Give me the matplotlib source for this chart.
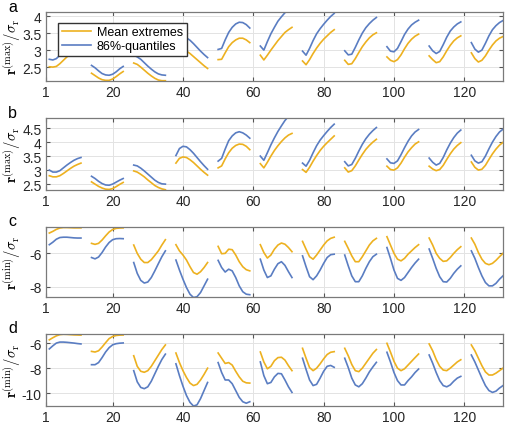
import numpy as np
import matplotlib
matplotlib.use("Agg")
import matplotlib.pyplot as plt

plt.rcParams["font.family"] = ["Liberation Sans", "DejaVu Sans"]
plt.rcParams["mathtext.fontset"] = "cm"

# each block of 10 consecutive indices, first index of each block
seg_starts = [2, 14, 26, 38, 50, 62, 74, 86, 98, 110, 122]
seg_len = 10

# panel a: r^(max)/sigma_r
a_mean = [
    [2.51, 2.50, 2.52, 2.60, 2.70, 2.80, 2.88, 2.95, 3.00, 3.02],
    [2.32, 2.25, 2.18, 2.13, 2.11, 2.11, 2.15, 2.22, 2.30, 2.37],
    [2.62, 2.58, 2.50, 2.41, 2.32, 2.24, 2.17, 2.12, 2.10, 2.10],
    [2.88, 2.97, 3.00, 2.97, 2.90, 2.81, 2.72, 2.63, 2.54, 2.46],
    [2.72, 2.73, 2.92, 3.10, 3.22, 3.30, 3.35, 3.35, 3.30, 3.22],
    [2.85, 2.71, 2.85, 3.00, 3.14, 3.28, 3.40, 3.52, 3.60, 3.67],
    [2.68, 2.57, 2.72, 2.90, 3.06, 3.20, 3.32, 3.42, 3.52, 3.60],
    [2.70, 2.58, 2.60, 2.75, 2.93, 3.10, 3.24, 3.36, 3.45, 3.51],
    [2.80, 2.70, 2.66, 2.72, 2.86, 3.04, 3.20, 3.32, 3.41, 3.47],
    [2.83, 2.72, 2.63, 2.66, 2.80, 2.98, 3.14, 3.27, 3.36, 3.42],
    [2.92, 2.75, 2.65, 2.70, 2.83, 3.00, 3.15, 3.27, 3.35, 3.40],
]
a_q86 = [
    [2.73, 2.71, 2.75, 2.85, 2.95, 3.05, 3.13, 3.20, 3.25, 3.28],
    [2.55, 2.48, 2.39, 2.31, 2.27, 2.26, 2.29, 2.36, 2.45, 2.52],
    [2.85, 2.80, 2.73, 2.63, 2.53, 2.44, 2.36, 2.30, 2.27, 2.26],
    [3.25, 3.35, 3.38, 3.36, 3.29, 3.19, 3.08, 2.97, 2.87, 2.78],
    [3.02, 3.05, 3.30, 3.52, 3.67, 3.77, 3.82, 3.81, 3.75, 3.65],
    [3.12, 3.00, 3.25, 3.48, 3.67, 3.85, 3.98, 4.10, 4.18, 4.25],
    [2.97, 2.85, 3.05, 3.28, 3.48, 3.63, 3.76, 3.88, 3.99, 4.08],
    [2.98, 2.86, 2.88, 3.08, 3.30, 3.50, 3.66, 3.78, 3.88, 3.96],
    [3.10, 2.97, 2.95, 3.05, 3.25, 3.46, 3.62, 3.74, 3.82, 3.88],
    [3.12, 2.98, 2.90, 2.96, 3.16, 3.38, 3.56, 3.68, 3.77, 3.83],
    [3.22, 3.03, 2.94, 3.00, 3.20, 3.42, 3.60, 3.72, 3.81, 3.87],
]

# panel b: r^(max)/sigma_r
b_mean = [
    [2.80, 2.76, 2.76, 2.80, 2.88, 2.97, 3.06, 3.14, 3.20, 3.25],
    [2.58, 2.50, 2.42, 2.36, 2.32, 2.31, 2.34, 2.41, 2.49, 2.56],
    [2.97, 2.93, 2.85, 2.76, 2.65, 2.55, 2.45, 2.38, 2.33, 2.30],
    [3.25, 3.42, 3.47, 3.45, 3.37, 3.27, 3.15, 3.03, 2.92, 2.82],
    [3.08, 3.15, 3.40, 3.62, 3.78, 3.88, 3.93, 3.92, 3.85, 3.73],
    [3.23, 3.08, 3.28, 3.50, 3.70, 3.87, 4.02, 4.15, 4.25, 4.31],
    [3.02, 2.92, 3.10, 3.32, 3.52, 3.70, 3.85, 3.98, 4.10, 4.22],
    [3.08, 2.93, 2.98, 3.15, 3.36, 3.56, 3.74, 3.88, 4.00, 4.10],
    [3.14, 3.02, 3.00, 3.08, 3.25, 3.46, 3.65, 3.80, 3.93, 4.01],
    [3.14, 3.04, 2.98, 3.02, 3.17, 3.38, 3.58, 3.75, 3.88, 3.98],
    [3.29, 3.10, 3.00, 3.03, 3.17, 3.38, 3.58, 3.75, 3.89, 3.99],
]
b_q86 = [
    [3.00, 2.93, 2.93, 2.98, 3.08, 3.18, 3.27, 3.35, 3.41, 3.45],
    [2.78, 2.70, 2.60, 2.52, 2.47, 2.46, 2.50, 2.57, 2.64, 2.70],
    [3.18, 3.15, 3.07, 2.97, 2.86, 2.75, 2.64, 2.56, 2.51, 2.50],
    [3.52, 3.77, 3.85, 3.83, 3.73, 3.60, 3.45, 3.30, 3.16, 3.03],
    [3.32, 3.42, 3.75, 4.05, 4.22, 4.33, 4.37, 4.33, 4.25, 4.14],
    [3.50, 3.35, 3.62, 3.90, 4.15, 4.38, 4.58, 4.77, 4.92, 5.00],
    [3.25, 3.14, 3.35, 3.62, 3.87, 4.07, 4.23, 4.38, 4.52, 4.64],
    [3.30, 3.15, 3.20, 3.42, 3.68, 3.92, 4.12, 4.28, 4.41, 4.52],
    [3.40, 3.26, 3.24, 3.33, 3.55, 3.80, 4.03, 4.22, 4.36, 4.45],
    [3.43, 3.28, 3.18, 3.24, 3.45, 3.72, 3.96, 4.16, 4.32, 4.43],
    [3.53, 3.33, 3.25, 3.30, 3.50, 3.76, 4.00, 4.20, 4.36, 4.46],
]

# panel c: r^(min)/sigma_r
c_mean = [
    [-4.78, -4.68, -4.56, -4.48, -4.45, -4.45, -4.46, -4.47, -4.47, -4.47],
    [-5.40, -5.46, -5.40, -5.20, -4.95, -4.72, -4.57, -4.50, -4.48, -4.47],
    [-5.50, -6.00, -6.35, -6.55, -6.55, -6.38, -6.12, -5.85, -5.50, -5.18],
    [-5.48, -5.85, -6.10, -6.40, -6.80, -7.15, -7.25, -7.10, -6.85, -6.55],
    [-5.58, -6.02, -6.00, -5.75, -5.78, -6.10, -6.50, -6.80, -6.98, -7.05],
    [-5.48, -5.95, -6.28, -6.10, -5.75, -5.50, -5.38, -5.45, -5.65, -5.90],
    [-5.28, -5.75, -6.20, -6.35, -6.10, -5.80, -5.50, -5.25, -5.10, -5.03],
    [-5.28, -5.70, -6.15, -6.50, -6.50, -6.20, -5.85, -5.50, -5.25, -5.10],
    [-5.00, -5.50, -6.00, -6.35, -6.45, -6.30, -6.05, -5.85, -5.65, -5.48],
    [-5.08, -5.50, -6.00, -6.30, -6.48, -6.45, -6.25, -6.00, -5.78, -5.60],
    [-5.08, -5.45, -5.95, -6.35, -6.60, -6.68, -6.60, -6.42, -6.20, -6.00],
]
c_q86 = [
    [-5.48, -5.33, -5.15, -5.05, -5.03, -5.03, -5.05, -5.07, -5.08, -5.08],
    [-6.25, -6.33, -6.22, -5.95, -5.62, -5.35, -5.18, -5.12, -5.11, -5.12],
    [-6.55, -7.20, -7.62, -7.78, -7.72, -7.45, -7.05, -6.62, -6.20, -5.85],
    [-6.40, -7.00, -7.55, -8.05, -8.45, -8.65, -8.60, -8.35, -7.95, -7.55],
    [-6.42, -6.85, -7.12, -6.95, -7.05, -7.45, -7.95, -8.30, -8.45, -8.48],
    [-6.35, -7.00, -7.45, -7.35, -6.95, -6.62, -6.50, -6.72, -7.10, -7.45],
    [-6.15, -6.80, -7.40, -7.58, -7.35, -7.00, -6.60, -6.25, -6.08, -6.05],
    [-6.10, -6.75, -7.35, -7.70, -7.70, -7.35, -6.90, -6.50, -6.20, -6.05],
    [-5.65, -6.30, -7.00, -7.50, -7.62, -7.45, -7.15, -6.85, -6.58, -6.35],
    [-5.74, -6.30, -6.90, -7.40, -7.70, -7.72, -7.50, -7.20, -6.95, -6.75],
    [-5.85, -6.30, -6.85, -7.35, -7.75, -7.95, -7.95, -7.80, -7.55, -7.35],
]

# panel d: r^(min)/sigma_r
d_mean = [
    [-5.72, -5.55, -5.40, -5.30, -5.27, -5.28, -5.30, -5.32, -5.33, -5.34],
    [-6.65, -6.70, -6.60, -6.30, -5.95, -5.62, -5.45, -5.37, -5.34, -5.33],
    [-7.00, -7.85, -8.25, -8.33, -8.20, -7.85, -7.40, -6.95, -6.50, -6.13],
    [-6.78, -7.55, -8.20, -8.75, -9.20, -9.40, -9.30, -8.95, -8.50, -8.00],
    [-6.78, -7.20, -7.62, -7.55, -7.75, -8.25, -8.70, -9.05, -9.18, -9.20],
    [-6.70, -7.50, -8.05, -7.85, -7.40, -7.15, -7.12, -7.35, -7.80, -8.20],
    [-6.40, -7.20, -7.95, -8.20, -8.00, -7.65, -7.25, -6.90, -6.72, -6.67],
    [-6.40, -7.00, -7.70, -8.20, -8.28, -8.00, -7.60, -7.20, -6.80, -6.50],
    [-6.00, -6.70, -7.45, -8.00, -8.20, -8.05, -7.75, -7.45, -7.15, -6.86],
    [-6.05, -6.60, -7.30, -7.85, -8.15, -8.20, -8.00, -7.75, -7.50, -7.32],
    [-6.13, -6.60, -7.20, -7.80, -8.30, -8.55, -8.55, -8.40, -8.20, -8.00],
]
d_q86 = [
    [-6.45, -6.20, -5.98, -5.90, -5.90, -5.92, -5.95, -5.98, -6.02, -6.05],
    [-7.72, -7.72, -7.55, -7.15, -6.70, -6.35, -6.12, -6.03, -5.99, -5.97],
    [-8.20, -9.10, -9.55, -9.65, -9.50, -9.05, -8.45, -7.85, -7.30, -6.87],
    [-7.65, -8.60, -9.45, -10.20, -10.75, -11.05, -10.95, -10.45, -9.80, -9.15],
    [-7.55, -8.35, -8.95, -8.95, -9.25, -9.80, -10.35, -10.70, -10.82, -10.70],
    [-7.50, -8.60, -9.25, -9.15, -8.70, -8.42, -8.45, -8.95, -9.50, -9.95],
    [-7.20, -8.10, -8.95, -9.40, -9.30, -8.80, -8.25, -7.85, -7.78, -7.93],
    [-7.20, -7.95, -8.80, -9.35, -9.50, -9.25, -8.80, -8.30, -7.90, -7.53],
    [-6.72, -7.50, -8.35, -9.00, -9.35, -9.35, -9.00, -8.70, -8.35, -8.07],
    [-6.94, -7.60, -8.35, -9.00, -9.40, -9.50, -9.35, -9.05, -8.80, -8.66],
    [-6.94, -7.50, -8.15, -8.80, -9.40, -9.80, -9.95, -9.85, -9.60, -9.40],
]

panels = ["a", "b", "c", "d"]
means = [a_mean, b_mean, c_mean, d_mean]
quants = [a_q86, b_q86, c_q86, d_q86]
ylims = [(2.1, 4.13), (2.29, 4.86), (-8.6, -4.4), (-11.02, -5.25)]
yticks = [[2.5, 3, 3.5, 4], [2.5, 3, 3.5, 4, 4.5], [-8, -6], [-10, -8, -6]]
ylabels = [r"$\mathbf{r}^{(\max)}/\sigma_{\mathrm{r}}$",
           r"$\mathbf{r}^{(\max)}/\sigma_{\mathrm{r}}$",
           r"$\mathbf{r}^{(\min)}/\sigma_{\mathrm{r}}$",
           r"$\mathbf{r}^{(\min)}/\sigma_{\mathrm{r}}$"]
xticks = [1, 20, 40, 60, 80, 100, 120]

orange = "#EDB120"
blue = "#5A7DC2"

# axes boxes in pixels (top, bottom) on a 510x427 canvas
W, H = 510, 427
boxes = [(12.7, 81.7), (119, 191), (227.7, 297.7), (335, 406.7)]
left, right = 45.8, 503

fig = plt.figure(figsize=(W / 100, H / 100), dpi=100)

for i in range(4):
    top, bot = boxes[i]
    ax = fig.add_axes([left / W, 1 - bot / H, (right - left) / W, (bot - top) / H])
    for k, s in enumerate(seg_starts):
        x = np.arange(s, s + seg_len)
        lo, = ax.plot(x, means[i][k], color=orange, lw=1.2)
        lb, = ax.plot(x, quants[i][k], color=blue, lw=1.2)
    ax.set_xlim(1, 131)
    ax.set_ylim(*ylims[i])
    ax.set_xticks(xticks)
    ax.set_yticks(yticks[i])
    ax.set_yticklabels([f"{t:g}" for t in yticks[i]])
    ax.grid(True, color="#e3e3e3", lw=0.7)
    ax.set_axisbelow(True)
    ax.tick_params(direction="in", top=True, right=True, labelsize=10,
                   length=3, color="#555555", labelcolor="#262626", pad=3)
    for sp in ax.spines.values():
        sp.set_color("#7a7a7a")
        sp.set_linewidth(0.9)
    ax.set_ylabel(ylabels[i], fontsize=10.5)
    ax.yaxis.set_label_coords(-0.05, 0.5)
    fig.text(8 / W, 1 - max(top - 6, 7) / H, panels[i], fontsize=11.5,
             ha="left", va="center")
    if i == 0:
        ax.legend([lo, lb], ["Mean extremes", "86%-quantiles"], loc="upper left",
                  bbox_to_anchor=(0.027, 0.84), fontsize=9, frameon=True,
                  fancybox=False, edgecolor="#333333", framealpha=1,
                  handlelength=2.3, borderpad=0.3, labelspacing=0.15,
                  handletextpad=0.5, borderaxespad=0)

fig.savefig("out.png", dpi=100)
